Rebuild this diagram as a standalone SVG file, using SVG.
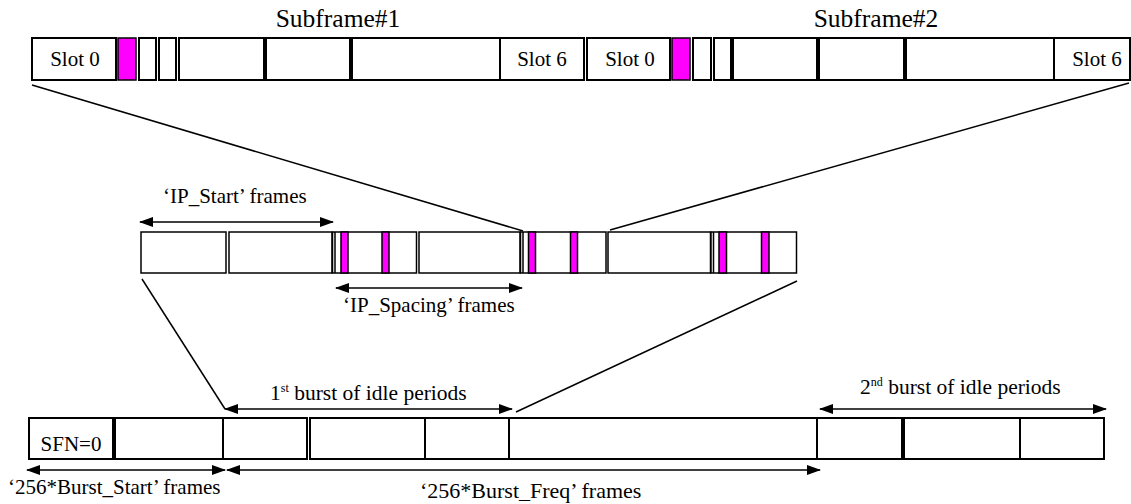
<svg xmlns="http://www.w3.org/2000/svg" width="1131" height="504" viewBox="0 0 1131 504">
<defs>
<style>
.b{fill:#fff;stroke:#000;stroke-width:2}
.m{fill:#ff00ff;stroke:#000;stroke-width:1.5}
.bm{fill:#fff;stroke:#000;stroke-width:1.5}
.t{font-family:"Liberation Serif","Times New Roman",serif;fill:#000;font-size:21px}
.c{text-anchor:middle}
.ln{stroke:#000;stroke-width:1.5;fill:none}
.ar{stroke:#000;stroke-width:1.5;fill:none;marker-start:url(#ah);marker-end:url(#ah)}
</style>
<marker id="ah" markerUnits="userSpaceOnUse" markerWidth="14" markerHeight="12" refX="13" refY="5" orient="auto-start-reverse" viewBox="0 0 14 10">
<path d="M0,0 L14,5 L0,10 z" fill="#000"/>
</marker>
</defs>

<g id="subframe-labels">
<text class="t c" x="338" y="27" style="font-size:25.5px">Subframe#1</text>
<text class="t c" x="876" y="27" style="font-size:25.5px">Subframe#2</text>
</g>

<g id="top-row">
<rect class="b" x="32" y="38" width="84" height="42"/>
<rect class="m" x="118" y="38" width="18" height="42"/>
<rect class="b" x="139" y="38" width="17" height="42"/>
<rect class="b" x="159" y="38" width="17" height="42"/>
<rect class="b" x="179" y="38" width="85" height="42"/>
<rect class="b" x="266" y="38" width="84" height="42"/>
<rect class="b" x="352" y="38" width="148" height="42"/>
<rect class="b" x="500" y="38" width="84" height="42"/>
<rect class="b" x="587" y="38" width="83" height="42"/>
<rect class="m" x="672" y="38" width="18" height="42"/>
<rect class="b" x="693" y="38" width="18" height="42"/>
<rect class="b" x="714" y="38" width="17" height="42"/>
<rect class="b" x="733" y="38" width="84" height="42"/>
<rect class="b" x="819" y="38" width="85" height="42"/>
<rect class="b" x="906" y="38" width="148" height="42"/>
<rect class="b" x="1054" y="38" width="76" height="42"/>
<text class="t c" x="75" y="66">Slot 0</text>
<text class="t c" x="542" y="66">Slot 6</text>
<text class="t c" x="630" y="66">Slot 0</text>
<text class="t c" x="1097" y="66">Slot 6</text>
</g>

<g id="middle-row">
<rect class="bm" x="141" y="232" width="85" height="41"/>
<rect class="bm" x="229" y="232" width="103" height="41"/>
<rect class="bm" x="332.5" y="232" width="84" height="41"/>
<line class="ln" x1="335" y1="232" x2="335" y2="273" stroke-width="1"/>
<rect class="m" x="341" y="232" width="7" height="41"/>
<rect class="m" x="382" y="232" width="7" height="41"/>
<rect class="bm" x="419" y="232" width="101" height="41"/>
<rect class="bm" x="520.5" y="232" width="85.5" height="41"/>
<line class="ln" x1="523" y1="232" x2="523" y2="273" stroke-width="1"/>
<rect class="m" x="528.5" y="232" width="7" height="41"/>
<rect class="m" x="570.5" y="232" width="7" height="41"/>
<rect class="bm" x="608" y="232" width="102.5" height="41"/>
<rect class="bm" x="711" y="232" width="85.5" height="41"/>
<line class="ln" x1="713.5" y1="232" x2="713.5" y2="273" stroke-width="1"/>
<rect class="m" x="719" y="232" width="7.5" height="41"/>
<rect class="m" x="761.5" y="232" width="7.5" height="41"/>
</g>

<g id="bottom-row">
<rect class="b" x="29" y="418" width="84" height="41"/>
<rect class="b" x="115" y="418" width="108" height="41"/>
<rect class="b" x="223" y="418" width="84" height="41"/>
<rect class="b" x="310" y="418" width="115" height="41"/>
<rect class="b" x="425" y="418" width="84" height="41"/>
<rect class="b" x="509" y="418" width="308" height="41"/>
<rect class="b" x="817" y="418" width="85" height="41"/>
<rect class="b" x="904" y="418" width="116" height="41"/>
<rect class="b" x="1020" y="418" width="84" height="41"/>
<text class="t c" x="71" y="451">SFN=0</text>
</g>

<g id="connectors">
<line class="ln" x1="32" y1="85" x2="523" y2="231"/>
<line class="ln" x1="1129" y1="83" x2="610" y2="230"/>
<line class="ln" x1="142" y1="279" x2="225" y2="409"/>
<line class="ln" x1="797" y1="281" x2="516" y2="412"/>
<line class="ar" x1="140" y1="222" x2="333" y2="222"/>
<line class="ar" x1="336" y1="288" x2="522" y2="288"/>
<line class="ar" x1="225" y1="409" x2="512" y2="409"/>
<line class="ar" x1="820" y1="409" x2="1106" y2="409"/>
<line class="ar" x1="27" y1="470" x2="225" y2="470" stroke-width="1" stroke="#555"/>
<line class="ar" x1="227" y1="470" x2="820" y2="470" stroke-width="2"/>
</g>

<g id="labels">
<text class="t" x="163" y="203">‘IP_Start’ frames</text>
<text class="t" x="343" y="312">‘IP_Spacing’ frames</text>
<text class="t" x="270" y="400" style="font-size:21.5px">1<tspan dy="-8" style="font-size:12px">st</tspan><tspan dy="8"> burst of idle periods</tspan></text>
<text class="t" x="860" y="394" style="font-size:21.5px">2<tspan dy="-8" style="font-size:12px">nd</tspan><tspan dy="8"> burst of idle periods</tspan></text>
<text class="t" x="8" y="494">‘256*Burst_Start’ frames</text>
<text class="t" x="420" y="498" style="font-size:22px">‘256*Burst_Freq’ frames</text>
</g>
</svg>
